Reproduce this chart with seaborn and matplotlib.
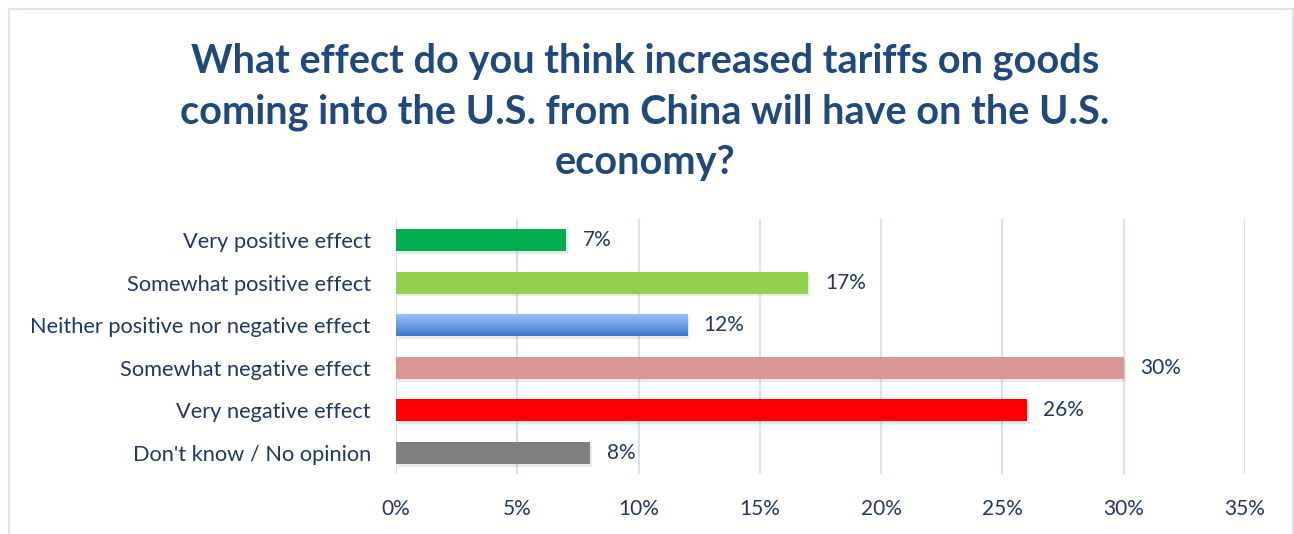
import numpy as np
import pandas as pd
import matplotlib
matplotlib.use("Agg")
import matplotlib.pyplot as plt
import matplotlib.patheffects as pe
from matplotlib.patches import Rectangle
from matplotlib.colors import LinearSegmentedColormap
from matplotlib.ticker import MultipleLocator, FuncFormatter
import seaborn as sns

categories = [
    "Very positive effect",
    "Somewhat positive effect",
    "Neither positive nor negative effect",
    "Somewhat negative effect",
    "Very negative effect",
    "Don't know / No opinion",
]
shares = [7, 17, 12, 30, 26, 8]
bar_colors = ["#00B050", "#92D050", "#6A9FE8", "#D99694", "#FF0000", "#808080"]
title = ("What effect do you think increased tariffs on goods\n"
         "coming into the U.S. from China will have on the U.S.\n"
         "economy?")

navy = "#1F497D"
text_col = "#203864"
grid_col = "#D6E2F2"

sns.set_theme(style="white")
plt.rcParams["font.family"] = ["Lato", "DejaVu Sans"]

W, H = 1294, 534
fig = plt.figure(figsize=(W / 100, H / 100), dpi=100)
fig.patch.set_facecolor("white")

def px_box(x0, y0, x1, y1):
    return [x0 / W, 1 - y1 / H, (x1 - x0) / W, (y1 - y0) / H]

ax = fig.add_axes(px_box(396, 218.7, 1245, 474.3))

df = pd.DataFrame({"category": categories, "share": shares})
sns.barplot(data=df, y="category", x="share", hue="category",
            palette=bar_colors, order=categories, hue_order=categories,
            width=0.52, legend=False, ax=ax, saturation=1)

ax.set_xlim(0, 35)
ax.set_ylim(5.5, -0.5)
ax.xaxis.set_major_locator(MultipleLocator(5))
ax.xaxis.set_major_formatter(FuncFormatter(lambda v, _: f"{v:.0f}%"))
ax.grid(axis="x", color=grid_col, linewidth=1.5)
ax.grid(axis="y", visible=False)
ax.set_axisbelow(True)
for s in ax.spines.values():
    s.set_visible(False)
ax.set_xlabel("")
ax.set_ylabel("")
ax.tick_params(axis="x", length=0, pad=18, labelsize=15, labelcolor=text_col)
ax.tick_params(axis="y", length=0, pad=18, labelsize=15.7, labelcolor=text_col)

shadow = [pe.SimplePatchShadow(offset=(1.5, -2), alpha=0.16, shadow_rgbFace="#777777"), pe.Normal()]
for patch in ax.patches:
    patch.set_edgecolor("none")
    patch.set_path_effects(shadow)

# vertical gradient on the neutral bar
blue_patch = ax.patches[2]
bx, by = blue_patch.get_x(), blue_patch.get_y()
bw, bh = blue_patch.get_width(), blue_patch.get_height()
cmap = LinearSegmentedColormap.from_list("blue_grad", ["#9EC3FF", "#6C9FE6", "#3F7ACB"])
grad = np.linspace(0, 1, 64).reshape(-1, 1)
img = ax.imshow(grad, cmap=cmap, aspect="auto", extent=(bx, bx + bw, by + bh, by),
                origin="upper", zorder=blue_patch.get_zorder() + 0.1)
img.set_clip_path(blue_patch)
ax.set_xlim(0, 35)
ax.set_ylim(5.5, -0.5)

for i, val in enumerate(shares):
    ax.annotate(f"{val}%", xy=(val, i), xytext=(12, 0), textcoords="offset points",
                va="center", ha="left", fontsize=15, color=text_col)

fig.text(0.4985, 1 - 112 / H, title, ha="center", va="center", fontsize=28.5,
         fontweight="bold", color=navy, linespacing=1.44)

# chart frame
fig.add_artist(Rectangle((9 / W, -0.1), (1293 - 9) / W, 1.1 - 9 / H,
                         transform=fig.transFigure, fill=False,
                         edgecolor="#D9E3F3", linewidth=1.5))

fig.savefig("out.png", dpi=100, facecolor="white")
